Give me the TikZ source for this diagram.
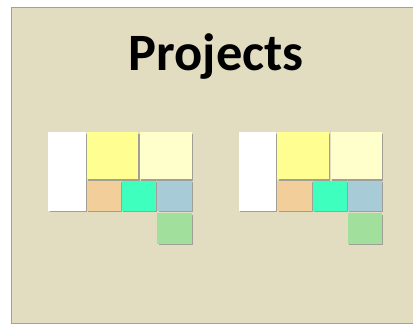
\documentclass[tikz,border=0pt]{standalone}
\usepackage{fontspec}
\setmainfont{Carlito}
\usetikzlibrary{shadows}
\definecolor{bgpanel}{RGB}{226,220,192}
\definecolor{panelborder}{RGB}{160,160,160}
\definecolor{cyellow}{RGB}{255,255,145}
\definecolor{clightyellow}{RGB}{255,255,204}
\definecolor{corange}{RGB}{242,206,155}
\definecolor{cteal}{RGB}{63,255,191}
\definecolor{cbluegrey}{RGB}{168,204,215}
\definecolor{cgreen}{RGB}{160,224,156}
\definecolor{cshadow}{RGB}{160,160,150}
\tikzset{
  tile/.style={rectangle, inner sep=0pt, outer sep=0pt, anchor=north west,
    draw=none, drop shadow={shadow xshift=1.2pt, shadow yshift=-1.2pt, fill=cshadow, opacity=1}},
}
\begin{document}
\begin{tikzpicture}[x=1pt,y=-1pt]
\useasboundingbox (0,0) rectangle (413,325);
\begin{scope}
\clip (0,0) rectangle (413,325);
\fill[white] (0,0) rectangle (413,325);
\draw[panelborder, fill=bgpanel, line width=1pt] (11,7.5) rectangle (430,323);
\end{scope}
\node[font=\bfseries\fontsize{52.5}{60}\selectfont, anchor=base] (title) at (216,70) {Projects};
\foreach \i/\dx in {a/0, b/190.5}{
  \begin{scope}[xshift=\dx pt]
  \node[tile, fill=white, minimum width=37.4pt, minimum height=78.4pt] (white\i) at (48.3,132.3) {};
  \node[tile, fill=cyellow, minimum width=51.6pt, minimum height=47pt] (yellow\i) at (86.8,132.3) {};
  \node[tile, fill=clightyellow, minimum width=51.6pt, minimum height=47pt] (lyellow\i) at (140,132.3) {};
  \node[tile, fill=corange, minimum width=34.2pt, minimum height=30pt] (orange\i) at (86.8,180.7) {};
  \node[tile, fill=cteal, minimum width=34pt, minimum height=30pt] (teal\i) at (122.2,180.7) {};
  \node[tile, fill=cbluegrey, minimum width=34.3pt, minimum height=30pt] (blue\i) at (157.4,180.7) {};
  \node[tile, fill=cgreen, minimum width=34.3pt, minimum height=30.7pt] (green\i) at (157.4,213.3) {};
  \end{scope}
}
\end{tikzpicture}
\end{document}
